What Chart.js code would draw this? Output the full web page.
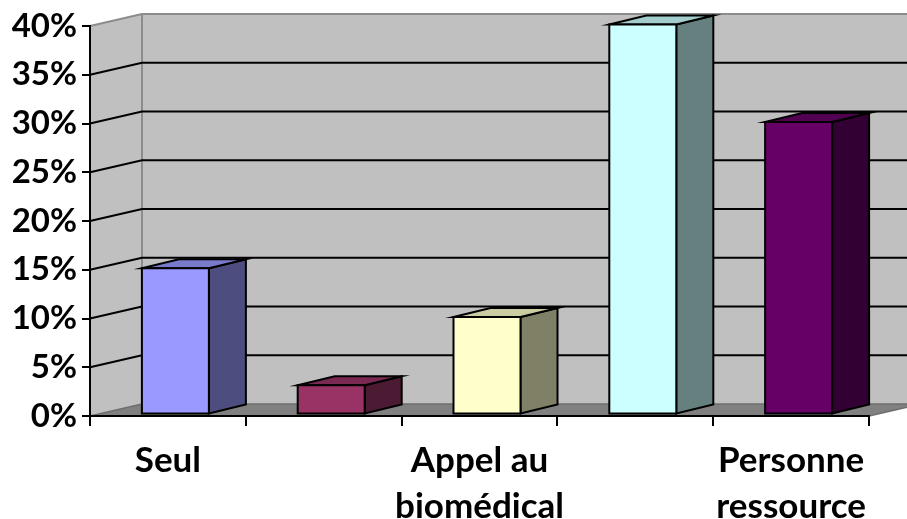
<!DOCTYPE html>
<html>
<head>
<meta charset="utf-8">
<script src="https://cdn.jsdelivr.net/npm/chart.js@4.4.0/dist/chart.umd.min.js"></script>
<style>
  html, body { margin: 0; padding: 0; background: #fff; }
  #wrap { width: 907px; height: 519px; }
</style>
</head>
<body>
<div id="wrap"><canvas id="myChart" width="907" height="519"></canvas></div>
<script>
// data
var categories = ['Seul', '', ['Appel au', 'biomédical'], '', ['Personne', 'ressource']];
var values = [15, 3, 10, 40, 30];
var yTicks = [0, 5, 10, 15, 20, 25, 30, 35, 40];

// classic excel palette: front, top, side
var frontColors = ['#9999FF', '#993366', '#FFFFCC', '#CCFFFF', '#660066'];
var topColors = ['#7A7ACC', '#7A2952', '#CCCCA3', '#A3CCCC', '#520052'];
var sideColors = ['#4D4D80', '#4D1A33', '#808066', '#668080', '#330033'];

// 3d depth of the plot (back wall offset) and of the bars
var DX = 52, DY = -12;
var BDX = 37, BDY = -9;

var fake3d = {
  id: 'fake3d',
  beforeDraw: function (chart) {
    var ctx = chart.ctx;
    var a = chart.chartArea;
    var y = chart.scales.y;
    var right = a.right + DX;
    ctx.save();
    // back wall
    ctx.fillStyle = '#C0C0C0';
    ctx.fillRect(a.left + DX, a.top + DY, right - a.left - DX, a.bottom - a.top);
    // side wall
    ctx.beginPath();
    ctx.moveTo(a.left, a.top);
    ctx.lineTo(a.left + DX, a.top + DY);
    ctx.lineTo(a.left + DX, a.bottom + DY);
    ctx.lineTo(a.left, a.bottom);
    ctx.closePath();
    ctx.fill();
    // floor
    ctx.fillStyle = '#808080';
    ctx.beginPath();
    ctx.moveTo(a.left, a.bottom);
    ctx.lineTo(a.left + DX, a.bottom + DY);
    ctx.lineTo(right, a.bottom + DY);
    ctx.lineTo(a.right, a.bottom);
    ctx.closePath();
    ctx.fill();
    ctx.strokeStyle = '#6E6E6E';
    ctx.lineWidth = 1.5;
    ctx.beginPath();
    ctx.moveTo(a.left, a.bottom);
    ctx.lineTo(a.left + DX, a.bottom + DY);
    ctx.lineTo(right, a.bottom + DY);
    ctx.lineTo(a.right, a.bottom);
    ctx.stroke();
    // wall edges
    ctx.strokeStyle = '#8C8C8C';
    ctx.lineWidth = 2;
    ctx.beginPath();
    ctx.moveTo(a.left, a.top);
    ctx.lineTo(a.left + DX, a.top + DY);
    ctx.lineTo(right, a.top + DY);
    ctx.moveTo(a.left + DX, a.top + DY);
    ctx.lineTo(a.left + DX, a.bottom + DY);
    ctx.stroke();
    // grid lines
    ctx.strokeStyle = '#000';
    ctx.lineWidth = 2;
    yTicks.forEach(function (v) {
      if (v === 0 || v === 40) return;
      var py = y.getPixelForValue(v);
      ctx.beginPath();
      ctx.moveTo(a.left, py);
      ctx.lineTo(a.left + DX, py + DY);
      ctx.lineTo(right, py + DY);
      ctx.stroke();
    });
    ctx.restore();
  },
  beforeDatasetsDraw: function (chart) {
    var ctx = chart.ctx;
    var bars = chart.getDatasetMeta(0).data;
    var sx = (DX - BDX) / 2, sy = (DY - BDY) / 2;
    ctx.save();
    ctx.lineWidth = 2;
    ctx.strokeStyle = '#000';
    ctx.lineJoin = 'miter';
    bars.forEach(function (bar, i) {
      var l = bar.x - bar.width / 2 + sx;
      var r = bar.x + bar.width / 2 + sx;
      var t = bar.y + sy;
      var b = bar.base + sy;
      // side
      ctx.fillStyle = sideColors[i];
      ctx.beginPath();
      ctx.moveTo(r, t);
      ctx.lineTo(r + BDX, t + BDY);
      ctx.lineTo(r + BDX, b + BDY);
      ctx.lineTo(r, b);
      ctx.closePath();
      ctx.fill();
      ctx.stroke();
      // top
      ctx.fillStyle = topColors[i];
      ctx.beginPath();
      ctx.moveTo(l, t);
      ctx.lineTo(l + BDX, t + BDY);
      ctx.lineTo(r + BDX, t + BDY);
      ctx.lineTo(r, t);
      ctx.closePath();
      ctx.fill();
      ctx.stroke();
      // front
      ctx.fillStyle = frontColors[i];
      ctx.fillRect(l, t, r - l, b - t);
      ctx.strokeRect(l, t, r - l, b - t);
    });
    ctx.restore();
    return false;
  }
};

var ctx = document.getElementById('myChart').getContext('2d');
var myChart = new Chart(ctx, {
  type: 'bar',
  data: {
    labels: categories,
    datasets: [{
      data: values,
      backgroundColor: frontColors,
      categoryPercentage: 1,
      barPercentage: 0.43
    }]
  },
  options: {
    responsive: false,
    animation: false,
    events: [],
    layout: { padding: { top: 26, right: 38, left: 0, bottom: 0 } },
    plugins: { legend: { display: false }, tooltip: { enabled: false } },
    scales: {
      x: {
        grid: { drawOnChartArea: false, drawTicks: true, tickLength: 10, color: '#000', lineWidth: 2, offset: true },
        border: { color: '#000', width: 2 },
        ticks: {
          color: '#000',
          font: { family: 'Lato', weight: 'bold', size: 35, lineHeight: 1.3 },
          maxRotation: 0,
          autoSkip: false,
          padding: 12
        },
        afterFit: function (s) { s.height = 103; }
      },
      y: {
        min: 0,
        max: 40,
        grid: { drawOnChartArea: false, drawTicks: true, tickLength: 8, color: '#000', lineWidth: 2 },
        border: { color: '#000', width: 2 },
        ticks: {
          stepSize: 5,
          color: '#000',
          font: { family: 'Lato', weight: 'bold', size: 33 },
          padding: 5,
          callback: function (v) { return v + '%'; }
        },
        afterFit: function (s) { s.width = 90; }
      }
    }
  },
  plugins: [fake3d]
});
</script>
</body>
</html>
